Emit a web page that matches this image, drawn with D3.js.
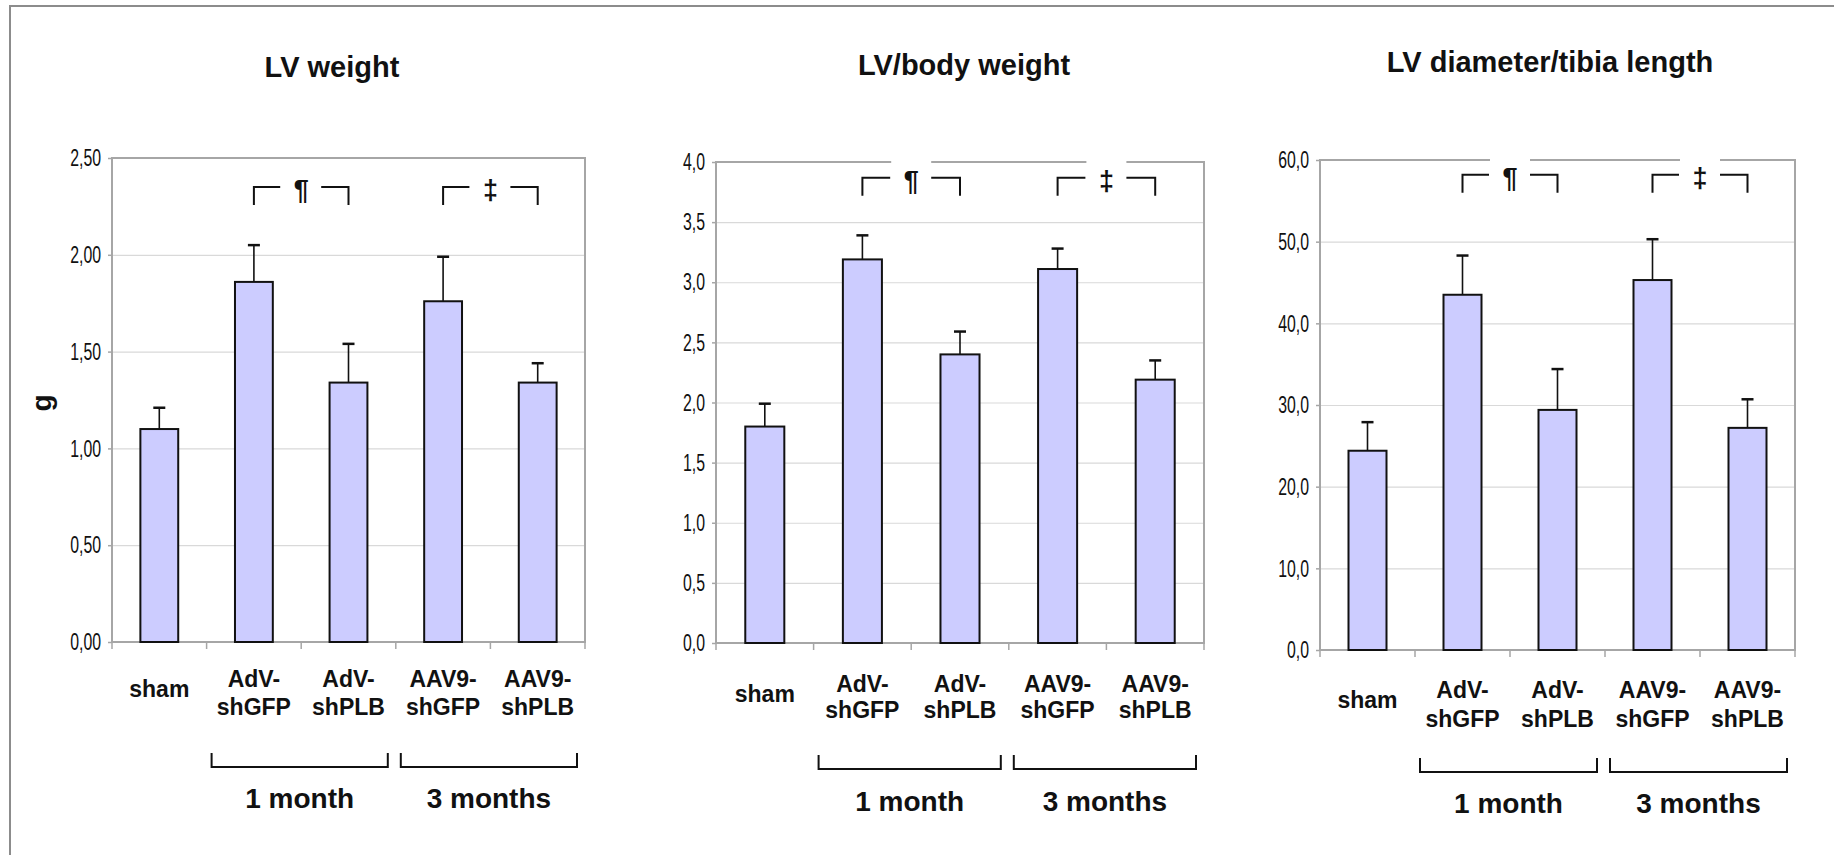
<!DOCTYPE html>
<html>
<head>
<meta charset="utf-8">
<script src="https://cdn.jsdelivr.net/npm/d3@7"></script>
<style>
  html, body { margin: 0; padding: 0; background: #fff; }
  svg { display: block; }
</style>
</head>
<body>
<svg id="chart"></svg>
<script>
// categories (multi-line labels) and time groups
const categories = [['sham'], ['AdV-', 'shGFP'], ['AdV-', 'shPLB'], ['AAV9-', 'shGFP'], ['AAV9-', 'shPLB']];
const groups = [
  { label: '1 month', from: 1, to: 2 },
  { label: '3 months', from: 3, to: 4 }
];
const sigPairs = [
  { symbol: '\u00B6', a: 1, b: 2 },
  { symbol: '\u2021', a: 3, b: 4 }
];

// LV weight (g)
const lvWeight = [1.10, 1.86, 1.34, 1.76, 1.34];
const lvWeightErr = [0.11, 0.19, 0.20, 0.23, 0.10];
const lvWeightTicks = [0, 0.5, 1.0, 1.5, 2.0, 2.5];

// LV / body weight
const lvBody = [1.80, 3.19, 2.40, 3.11, 2.19];
const lvBodyErr = [0.19, 0.20, 0.19, 0.17, 0.16];
const lvBodyTicks = [0, 0.5, 1.0, 1.5, 2.0, 2.5, 3.0, 3.5, 4.0];

// LV diameter / tibia length
const lvDiam = [24.4, 43.5, 29.4, 45.3, 27.2];
const lvDiamErr = [3.5, 4.8, 5.0, 5.0, 3.5];
const lvDiamTicks = [0, 10, 20, 30, 40, 50, 60];

const W = 1834, H = 855;
const FONT = '"Liberation Sans", Arial, Helvetica, sans-serif';
const BAR_FILL = '#ccccff';
const FRAME = '#a6a6a6';
const GRID = '#d9d9d9';

const locale = d3.formatLocale({ decimal: ',', thousands: '.', grouping: [3], currency: ['', ''] });

const panels = [
  { title: 'LV weight', values: lvWeight, errors: lvWeightErr, ticks: lvWeightTicks, fmt: '.2f', yTitle: 'g',
    left: 112, right: 585, top: 158, bottom: 642, titleX: 332, titleY: 77,
    catDy: [45, 73], singleDy: 55, groupLineDy: 125, groupTextDy: 166, sigY: 2.35 },
  { title: 'LV/body weight', values: lvBody, errors: lvBodyErr, ticks: lvBodyTicks, fmt: '.1f',
    left: 716, right: 1204, top: 162, bottom: 643, titleX: 964, titleY: 75,
    catDy: [49, 75], singleDy: 59, groupLineDy: 126, groupTextDy: 168, sigY: 3.87 },
  { title: 'LV diameter/tibia length', values: lvDiam, errors: lvDiamErr, ticks: lvDiamTicks, fmt: '.1f',
    left: 1320, right: 1795, top: 160, bottom: 650, titleX: 1550, titleY: 72,
    catDy: [48, 77], singleDy: 58, groupLineDy: 122, groupTextDy: 163, sigY: 58.2 }
];

const svg = d3.select('#chart').attr('width', W).attr('height', H);

svg.append('rect')
  .attr('width', W).attr('height', H).attr('fill', '#fff');

// outer frame (only left/top edges fall inside the picture)
svg.append('rect')
  .attr('x', 10).attr('y', 6)
  .attr('width', W + 20).attr('height', H + 20)
  .attr('fill', 'none')
  .attr('stroke', '#8c8c8c')
  .attr('stroke-width', 2);

function drawPanel(p) {
  const x = d3.scaleBand()
    .domain(d3.range(categories.length))
    .range([p.left, p.right])
    .paddingInner(0.6)
    .paddingOuter(0.3);

  const y = d3.scaleLinear()
    .domain([p.ticks[0], p.ticks[p.ticks.length - 1]])
    .range([p.bottom, p.top]);

  const g = svg.append('g');

  // gridlines
  g.append('g')
    .attr('transform', `translate(${p.left},0)`)
    .call(d3.axisLeft(y).tickValues(p.ticks).tickSize(-(p.right - p.left)).tickFormat(''))
    .call(a => a.select('.domain').remove())
    .call(a => a.selectAll('line').attr('stroke', GRID).attr('stroke-width', 1.2));

  // plot frame
  g.append('rect')
    .attr('x', p.left).attr('y', p.top)
    .attr('width', p.right - p.left).attr('height', p.bottom - p.top)
    .attr('fill', 'none')
    .attr('stroke', FRAME)
    .attr('stroke-width', 2);

  // y axis labels (condensed look)
  const sx = 0.66;
  g.append('g')
    .attr('transform', `translate(${p.left},0)`)
    .call(d3.axisLeft(y).tickValues(p.ticks).tickSize(4).tickPadding(7).tickFormat(locale.format(p.fmt)))
    .call(a => a.select('.domain').remove())
    .call(a => a.selectAll('line').attr('stroke', FRAME).attr('stroke-width', 1.5))
    .call(a => a.selectAll('text')
      .attr('font-family', FONT)
      .attr('font-size', 24)
      .attr('fill', '#111')
      .attr('x', -11 / sx)
      .attr('transform', `scale(${sx},1)`));

  // x axis ticks at category boundaries
  g.append('g')
    .selectAll('line')
    .data(d3.range(categories.length + 1))
    .enter()
    .append('line')
    .attr('x1', i => p.left + i * x.step())
    .attr('x2', i => p.left + i * x.step())
    .attr('y1', p.bottom)
    .attr('y2', p.bottom + 7)
    .attr('stroke', FRAME)
    .attr('stroke-width', 1.5);

  // bars
  g.append('g')
    .selectAll('rect')
    .data(p.values)
    .enter()
    .append('rect')
    .attr('x', (d, i) => x(i))
    .attr('y', d => y(d))
    .attr('width', x.bandwidth())
    .attr('height', d => p.bottom - y(d))
    .attr('fill', BAR_FILL)
    .attr('stroke', '#111')
    .attr('stroke-width', 2);

  // error bars (upper only)
  const err = g.append('g')
    .selectAll('g')
    .data(p.values.map((v, i) => ({ v, e: p.errors[i], i })))
    .enter()
    .append('g');

  err.append('line')
    .attr('x1', d => x(d.i) + x.bandwidth() / 2)
    .attr('x2', d => x(d.i) + x.bandwidth() / 2)
    .attr('y1', d => y(d.v))
    .attr('y2', d => y(d.v + d.e))
    .attr('stroke', '#111')
    .attr('stroke-width', 1.6);

  err.append('line')
    .attr('x1', d => x(d.i) + x.bandwidth() / 2 - 6)
    .attr('x2', d => x(d.i) + x.bandwidth() / 2 + 6)
    .attr('y1', d => y(d.v + d.e))
    .attr('y2', d => y(d.v + d.e))
    .attr('stroke', '#111')
    .attr('stroke-width', 2.5);

  // category labels
  const labels = g.append('g')
    .selectAll('text')
    .data(categories)
    .enter()
    .append('text')
    .attr('text-anchor', 'middle')
    .attr('font-family', FONT)
    .attr('font-weight', 'bold')
    .attr('font-size', 23)
    .attr('fill', '#111');

  labels.each(function(lines, i) {
    const t = d3.select(this);
    const cx = x(i) + x.bandwidth() / 2;
    if (lines.length === 1) {
      t.append('tspan').attr('x', cx).attr('y', p.bottom + p.singleDy).text(lines[0]);
    } else {
      lines.forEach((s, k) => {
        t.append('tspan').attr('x', cx).attr('y', p.bottom + p.catDy[k]).text(s);
      });
    }
  });

  // significance brackets
  sigPairs.forEach(s => {
    const xa = x(s.a) + x.bandwidth() / 2;
    const xb = x(s.b) + x.bandwidth() / 2;
    const mid = (xa + xb) / 2;
    const yb = y(p.sigY);

    g.append('rect')
      .attr('x', mid - 20).attr('y', yb - 26)
      .attr('width', 40).attr('height', 44)
      .attr('fill', '#fff');

    g.append('path')
      .attr('d', `M${xa},${yb + 18}V${yb}H${mid - 21}M${mid + 20},${yb}H${xb}V${yb + 18}`)
      .attr('fill', 'none')
      .attr('stroke', '#111')
      .attr('stroke-width', 2);

    g.append('text')
      .attr('x', mid)
      .attr('y', yb + 12)
      .attr('text-anchor', 'middle')
      .attr('font-family', FONT)
      .attr('font-weight', 'bold')
      .attr('font-size', 27)
      .attr('fill', '#111')
      .text(s.symbol);
  });

  // time group brackets
  groups.forEach(gr => {
    const x1 = p.left + gr.from * x.step() + 5;
    const x2 = p.left + (gr.to + 1) * x.step() - 8;
    const by = p.bottom + p.groupLineDy;

    g.append('path')
      .attr('d', `M${x1},${by - 14}V${by}H${x2}V${by - 14}`)
      .attr('fill', 'none')
      .attr('stroke', '#111')
      .attr('stroke-width', 2);

    g.append('text')
      .attr('x', (x1 + x2) / 2)
      .attr('y', p.bottom + p.groupTextDy)
      .attr('text-anchor', 'middle')
      .attr('font-family', FONT)
      .attr('font-weight', 'bold')
      .attr('font-size', 28)
      .attr('fill', '#111')
      .text(gr.label);
  });

  // panel title
  svg.append('text')
    .attr('x', p.titleX)
    .attr('y', p.titleY)
    .attr('text-anchor', 'middle')
    .attr('font-family', FONT)
    .attr('font-weight', 'bold')
    .attr('font-size', 29)
    .attr('fill', '#111')
    .text(p.title);

  if (p.yTitle) {
    svg.append('text')
      .attr('transform', `translate(51,${(p.top + p.bottom) / 2 + 3}) rotate(-90)`)
      .attr('text-anchor', 'middle')
      .attr('font-family', FONT)
      .attr('font-weight', 'bold')
      .attr('font-size', 28)
      .attr('fill', '#111')
      .text(p.yTitle);
  }
}

panels.forEach(drawPanel);
</script>
</body>
</html>
